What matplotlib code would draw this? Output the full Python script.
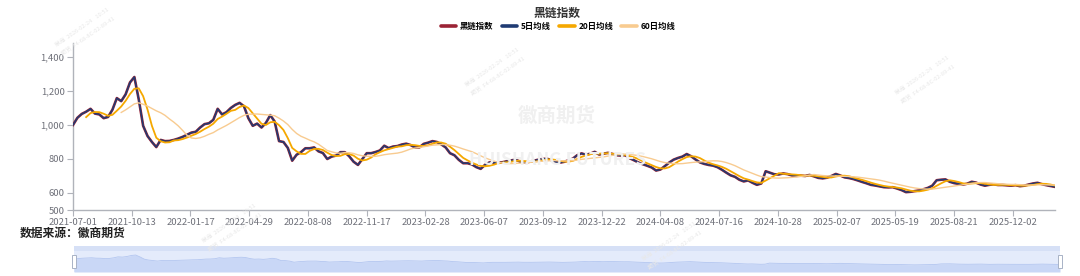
import numpy as np
import pandas as pd
import matplotlib
matplotlib.use('Agg')
import matplotlib.pyplot as plt
from matplotlib.lines import Line2D
from matplotlib.patches import Rectangle

plt.rcParams['font.family'] = ['Noto Sans CJK SC', 'DejaVu Sans']

# 黑链指数，每5个交易日一个点
step = 5
index_values = [
    1000, 1042, 1065, 1078, 1095, 1067, 1062, 1040, 1047, 1090,
    1158, 1140, 1180, 1250, 1282, 1150, 995, 935, 900, 870,
    912, 905, 906, 912, 920, 930, 942, 955, 960, 985,
    1005, 1010, 1030, 1095, 1062, 1075, 1100, 1118, 1130, 1110,
    1040, 995, 1008, 985, 1012, 1058, 1020, 905, 900, 865,
    790, 825, 840, 863, 863, 868, 845, 835, 800, 814,
    820, 840, 840, 816, 784, 765, 800, 834, 834, 841,
    850, 878, 864, 873, 876, 885, 890, 882, 868, 868,
    889, 896, 905, 900, 886, 868, 834, 822, 795, 775,
    775, 768, 752, 742, 766, 780, 778, 777, 781, 787,
    792, 796, 784, 780, 783, 789, 795, 800, 802, 795,
    783, 778, 783, 792, 802, 822, 833, 825, 831, 842,
    826, 831, 836, 830, 822, 820, 822, 804, 792, 779,
    769, 760, 750, 732, 738, 758, 779, 796, 806, 814,
    829, 816, 797, 780, 771, 765, 761, 752, 737, 720,
    704, 695, 678, 668, 674, 660, 648, 656, 728, 719,
    710, 709, 715, 711, 703, 701, 702, 700, 706, 698,
    689, 686, 690, 700, 712, 703, 692, 688, 682, 674,
    665, 657, 648, 644, 639, 634, 633, 634, 626, 617,
    605, 607, 611, 615, 622, 630, 643, 675, 678, 680,
    666, 658, 654, 649, 655, 666, 661, 650, 643, 648,
    651, 647, 647, 645, 643, 646, 640, 643, 650, 656,
    660, 652, 646, 641, 636,
]

tick_labels = ['2021-07-01', '2021-10-13', '2022-01-17', '2022-04-29', '2022-08-08',
               '2022-11-17', '2023-02-28', '2023-06-07', '2023-09-12', '2023-12-22',
               '2024-04-08', '2024-07-16', '2024-10-28', '2025-02-07', '2025-05-19',
               '2025-08-21', '2025-12-02']
tick_every = 67  # 交易日

series_names = ['黑链指数', '5日均线', '20日均线', '60日均线']
ma_days = [5, 20, 60]
colors = ['#9B2335', '#1F3B73', '#F5A800', '#F8CB90']
widths = [1.9, 1.1, 1.3, 1.0]

days = np.arange(len(index_values)) * step
s = pd.Series(index_values, index=days, dtype=float)
mas = [s.rolling(max(d // step, 1)).mean() for d in ma_days]

fig = plt.figure(figsize=(10.8, 2.76), dpi=100)
W, H = 1080, 276

# 水印
wm = '#f0f0f0'
fig.text(557 / W, 1 - 116 / H, '徽商期货', fontsize=14, fontweight='bold', color=wm,
         ha='center', va='center', zorder=0)
fig.text(558 / W, 1 - 160 / H, 'HUISHANG FUTURES', fontsize=12.5, fontweight='bold', color=wm,
         ha='center', va='center', zorder=0)
for (wx, wy) in [(85, 32), (495, 72), (925, 80), (232, 228), (672, 246)]:
    fig.text(wx / W, 1 - wy / H, '徽商  2026-02-24    10:51\n期货  F4-68-8C-02-89-41',
             fontsize=4.2, color='#e8e8e8', rotation=35, ha='center', va='center',
             linespacing=2.2, zorder=0)

ax = fig.add_axes([73 / W, 1 - 210 / H, (1055 - 73) / W, (210 - 43) / H])
ax.patch.set_alpha(0)
ax.plot(days, s.values, color=colors[0], lw=widths[0], zorder=3)
for i, ma in enumerate(mas):
    ax.plot(days, ma.values, color=colors[i + 1], lw=widths[i + 1], zorder=4 + i)

ax.set_xlim(0, days[-1])
ax.set_ylim(500, 1482)
ax.set_yticks([500, 600, 800, 1000, 1200, 1400])
ax.set_yticklabels([f'{v:,}' for v in [500, 600, 800, 1000, 1200, 1400]])
ax.set_xticks(np.arange(len(tick_labels)) * tick_every)
ax.set_xticklabels(tick_labels)
for sp in ['top', 'right']:
    ax.spines[sp].set_visible(False)
for sp in ['left', 'bottom']:
    ax.spines[sp].set_color('#b0b3ba')
    ax.spines[sp].set_linewidth(1.0)
ax.tick_params(axis='both', colors='#b0b3ba', labelcolor='#6E7079', labelsize=6.8,
               length=4, width=0.8, pad=2)

# 标题和图例
fig.text(557 / W, 1 - 13 / H, '黑链指数', fontsize=8.5, fontweight='bold',
         color='#333333', ha='center', va='center')
handles = [Line2D([], [], color=c, lw=2.6, solid_capstyle='round') for c in colors]
fig.legend(handles, series_names, loc='center', bbox_to_anchor=(558 / W, 1 - 26 / H),
           ncol=4, frameon=False, handlelength=1.9, handletextpad=0.4,
           columnspacing=1.0, borderpad=0, prop={'weight': 'bold', 'size': 6})

fig.text(20 / W, 1 - 233 / H, '数据来源：徽商期货', fontsize=8.5, fontweight='bold',
         color='#222222', ha='left', va='center')

# 底部缩放条
axz = fig.add_axes([74 / W, 1 - 272 / H, (1060 - 74) / W, 26 / H])
axz.set_xlim(0, days[-1])
axz.set_ylim(120, 1900)
axz.patch.set_facecolor('#e4ebfb')
axz.add_patch(Rectangle((0, 0.8), 1, 0.2, transform=axz.transAxes,
                        facecolor='#d6e0f6', edgecolor='none', zorder=1))
axz.fill_between(days, s.values, 120, color='#c9d7f6', lw=0, zorder=2)
axz.plot(days, s.values, color='#b3c6f0', lw=0.6, zorder=3)
for xa in [0, 1]:
    axz.add_patch(Rectangle((xa - 0.0016, 0.15), 0.0032, 0.5, transform=axz.transAxes,
                            facecolor='white', edgecolor='#a8b2c6', lw=0.7, zorder=5,
                            clip_on=False))
axz.set_xticks([])
axz.set_yticks([])
for sp in axz.spines.values():
    sp.set_visible(False)

fig.savefig('out.png', dpi=100)
